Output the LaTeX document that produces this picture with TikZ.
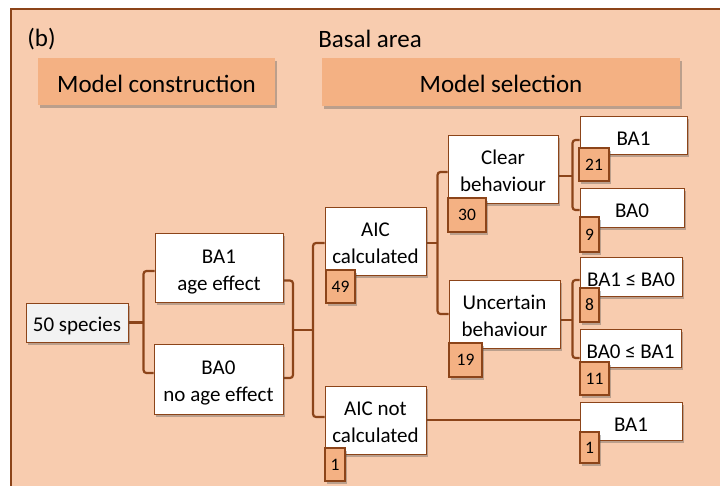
\documentclass[tikz,border=0pt]{standalone}
\usepackage{fontspec}
\setmainfont{Carlito}
\usetikzlibrary{shadows}
\definecolor{bgpeach}{RGB}{248,204,175}
\definecolor{hdr}{RGB}{244,177,131}
\definecolor{brn}{RGB}{140,68,25}
\definecolor{spg}{RGB}{242,242,242}
\pgfdeclarelayer{back}
\pgfdeclarelayer{lines}
\pgfsetlayers{back,lines,main}
\newcommand{\twoline}[2]{\raisebox{-4pt}[\height][\depth]{\begin{tabular}{@{}c@{}}#1\\#2\end{tabular}}}
\begin{document}
\begin{tikzpicture}[x=1pt,y=-1pt,
  shad/.style={drop shadow={shadow xshift=2pt,shadow yshift=-2.5pt,opacity=0.35,fill=black!70}},
  header/.style={fill=hdr,inner sep=0pt,font=\fontsize{25}{29}\selectfont,shad,execute at begin node={\rule{0pt}{21.5pt}}},
  wbox/.style={draw=brn,line width=1pt,fill=white,inner sep=0pt,font=\fontsize{21}{27}\selectfont,shad},
  oneline/.style={execute at begin node={\rule{0pt}{20.5pt}}},
  numbox/.style={draw=brn,line width=1.2pt,fill=hdr,inner sep=0pt,font=\fontsize{17.5}{20}\selectfont,shad},
  conn/.style={draw=brn,line width=2.2pt,rounded corners=3pt},
  lbl/.style={inner sep=0pt,font=\fontsize{25}{29}\selectfont},
]
\useasboundingbox (0,0) rectangle (720,485);
\begin{pgfonlayer}{back}
\clip (0,0) rectangle (720,485);
\fill[white] (0,0) rectangle (720,485);
\draw[brn,line width=2pt,fill=bgpeach] (11,9) rectangle (740,500);
\end{pgfonlayer}

\node[lbl] (lb) at (41.5,39) {(b)};
\node[lbl] (title) at (370,39) {Basal area};
\node[header,minimum width=237pt,minimum height=47pt] (mc) at (156.5,81.5) {Model construction};
\node[header,minimum width=358pt,minimum height=48pt] (ms) at (501,82) {Model selection};

\node[wbox,oneline,fill=spg,minimum width=102pt,minimum height=39pt] (species) at (77,322.5) {50 species};
\node[wbox,minimum width=128pt,minimum height=69pt] (ba1) at (219,267.5) {\twoline{BA1}{age effect}};
\node[wbox,minimum width=129pt,minimum height=70pt] (ba0) at (218.5,379) {\twoline{BA0}{no age effect}};
\node[wbox,minimum width=101pt,minimum height=68pt] (aic) at (375.5,241) {\twoline{AIC}{calculated}};
\node[wbox,minimum width=101pt,minimum height=68pt] (aicn) at (375.5,420) {\twoline{AIC not}{calculated}};
\node[wbox,minimum width=110pt,minimum height=68pt] (clear) at (503,169) {\twoline{Clear}{behaviour}};
\node[wbox,minimum width=111pt,minimum height=68pt] (unc) at (504.5,314) {\twoline{Uncertain}{behaviour}};
\node[wbox,oneline,minimum width=107pt,minimum height=38pt] (r1) at (633.5,135) {BA1};
\node[wbox,oneline,minimum width=104pt,minimum height=39pt] (r2) at (632,207.5) {BA0};
\node[wbox,oneline,minimum width=102pt,minimum height=39pt] (r3) at (631,276.5) {BA1 ≤ BA0};
\node[wbox,oneline,minimum width=101pt,minimum height=38pt] (r4) at (630.5,348) {BA0 ≤ BA1};
\node[wbox,oneline,minimum width=102pt,minimum height=38pt] (r5) at (631,421) {BA1};

\node[numbox,minimum width=29pt,minimum height=33pt] (n49) at (340.5,286.5) {49};
\node[numbox,minimum width=20pt,minimum height=33pt] (n1a) at (335,464.5) {1};
\node[numbox,minimum width=38pt,minimum height=34pt] (n30) at (467,215) {30};
\node[numbox,minimum width=33pt,minimum height=34pt] (n19) at (465.5,360) {19};
\node[numbox,minimum width=30pt,minimum height=33pt] (n21) at (594,164.5) {21};
\node[numbox,minimum width=19pt,minimum height=35pt] (n9) at (589.5,234.5) {9};
\node[numbox,minimum width=19pt,minimum height=34pt] (n8) at (589.5,305) {8};
\node[numbox,minimum width=29pt,minimum height=33pt] (n11) at (594.5,378.5) {11};
\node[numbox,minimum width=19pt,minimum height=31pt] (n1b) at (589.5,447.5) {1};

\begin{pgfonlayer}{lines}
\coordinate (j1) at ([xshift=15pt]species.east);
\draw[conn] (species.east) -- (j1);
\draw[conn] ([yshift=-3.5pt]ba1.west) -| (j1) |- ([yshift=6pt]ba0.west);
\coordinate (j2) at (293,330);
\coordinate (j3) at (313,330);
\draw[conn] ([yshift=-13pt]ba1.east) -| (j2) |- ([yshift=1pt]ba0.east);
\draw[conn] (j2) -- (j3);
\draw[conn] ([yshift=-2pt]aic.west) -| (j3) |- ([yshift=3pt]aicn.west);
\coordinate (j4) at ([xshift=11pt,yshift=-2pt]aic.east);
\draw[conn] ([yshift=-2pt]aic.east) -- (j4);
\draw[conn] ([yshift=-3pt]clear.west) -| (j4) |- (unc.west);
\coordinate (j5) at ([xshift=14pt,yshift=-7pt]clear.east);
\draw[conn] ([yshift=-7pt]clear.east) -- (j5);
\draw[conn] ([yshift=-5pt]r1.west) -| (j5) |- ([yshift=-2.5pt]r2.west);
\coordinate (j6) at ([xshift=12pt,yshift=-6pt]unc.east);
\draw[conn] ([yshift=-6pt]unc.east) -- (j6);
\draw[conn] ([yshift=-3.5pt]r3.west) -| (j6) |- ([yshift=-10pt]r4.west);
\draw[conn] (aicn.east) -- (aicn.east -| r5.west);
\end{pgfonlayer}
\end{tikzpicture}
\end{document}
